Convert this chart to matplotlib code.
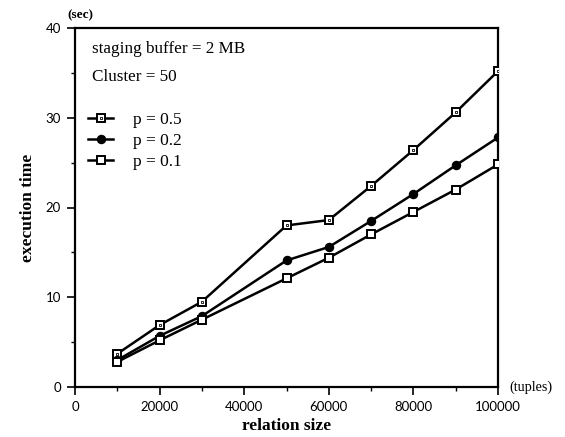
import matplotlib
matplotlib.use("Agg")
import matplotlib.pyplot as plt
from matplotlib.legend_handler import HandlerTuple
from matplotlib.ticker import MultipleLocator

# ---- data ----
relation_size = [10000, 20000, 30000, 50000, 60000, 70000, 80000, 90000, 100000]
p05 = [3.7, 6.9, 9.5, 18.0, 18.6, 22.4, 26.4, 30.6, 35.2]
p02 = [3.0, 5.7, 7.9, 14.1, 15.6, 18.5, 21.5, 24.7, 27.8]
p01 = [2.8, 5.2, 7.5, 12.1, 14.4, 17.0, 19.5, 22.0, 24.8]
series_labels = ["p = 0.5", "p = 0.2", "p = 0.1"]
x_ticks = [0, 20000, 40000, 60000, 80000, 100000]
y_ticks = [0, 10, 20, 30, 40]

serif = ["Liberation Serif", "DejaVu Serif"]
tickfont = ["Lato", "DejaVu Sans"]

W, H = 565, 437
fig = plt.figure(figsize=(W / 100, H / 100), dpi=100)
ax = fig.add_axes([75 / W, (H - 387) / H, (498 - 75) / W, (387 - 28) / H])

lw = 1.8
l1, = ax.plot(relation_size, p05, color="black", lw=lw, marker="s", ms=5.2,
              mfc="white", mec="black", mew=1.4, zorder=3)
l1in, = ax.plot(relation_size, p05, color="none", lw=0, marker="s", ms=2.0,
                mfc="white", mec="black", mew=0.6, zorder=4)
l2, = ax.plot(relation_size, p02, color="black", lw=lw, marker="o", ms=5.8,
              mfc="black", mec="black", zorder=3)
l3, = ax.plot(relation_size, p01, color="black", lw=lw, marker="s", ms=5.4,
              mfc="white", mec="black", mew=1.4, zorder=3)

ax.set_xlim(0, 100000)
ax.set_ylim(0, 40)
ax.set_xticks(x_ticks)
ax.set_yticks(y_ticks)
ax.xaxis.set_minor_locator(MultipleLocator(10000))
ax.yaxis.set_minor_locator(MultipleLocator(5))
ax.set_xticklabels([str(v) for v in x_ticks], family=tickfont, fontsize=9.5)
ax.set_yticklabels([str(v) for v in y_ticks], family=tickfont, fontsize=9.5)
ax.tick_params(which="major", direction="out", length=6, width=1.2, pad=4)
ax.tick_params(which="minor", direction="out", length=3, width=1.0)
for s in ax.spines.values():
    s.set_linewidth(1.6)

ax.set_xlabel("relation size", family=serif, fontweight="bold", fontsize=12.5, labelpad=4)
ax.set_ylabel("execution time", family=serif, fontweight="bold", fontsize=12.5, labelpad=7)

ax.text(17 / 423, 1 - 21 / 359, "staging buffer = 2 MB", transform=ax.transAxes,
        family=serif, fontsize=12.3, va="center", ha="left")
ax.text(17 / 423, 1 - 49 / 359, "Cluster = 50", transform=ax.transAxes,
        family=serif, fontsize=12.3, va="center", ha="left")

leg = ax.legend([(l1, l1in), l2, l3], series_labels,
                handler_map={tuple: HandlerTuple(ndivide=1)},
                loc="upper left", bbox_to_anchor=(13 / 423, 1 - 83.5 / 359),
                frameon=False, numpoints=1, handlelength=1.45, handletextpad=1.15,
                labelspacing=0.3, borderpad=0, borderaxespad=0,
                prop={"family": serif, "size": 12.5})

fig.text(67 / W, 1 - 15 / H, "(sec)", family=serif, fontsize=9.5, fontweight="bold",
         va="center", ha="left")
fig.text(509 / W, 1 - 387 / H, "(tuples)", family=serif, fontsize=10.2,
         va="center", ha="left")

fig.savefig("out.png", dpi=100)
